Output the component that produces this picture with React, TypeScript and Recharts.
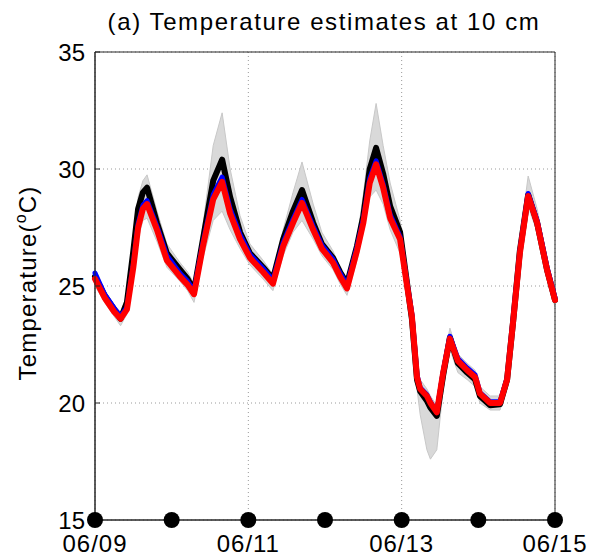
import { Area, CartesianGrid, ComposedChart, Line, ReferenceArea, ReferenceDot, XAxis, YAxis } from 'recharts';

const FONT = '"Liberation Sans", Arial, sans-serif';

// hours since 06/09 00:00
const hours = [
  0, 3, 6, 8, 10, 12, 13.5, 15, 16.3, 19.4, 22.5, 26.6, 29, 31, 33.8, 37, 39.8, 42.3, 45.4, 48.5,
  52.6, 55.7, 58.9, 62, 64.8, 68.3, 71, 74.5, 76.7, 78.9, 82, 84, 86, 88, 90.2, 92.4, 95.5, 97.7,
  99.2, 100.8, 101.8, 103.9, 105, 107, 109, 111.1, 113.6, 116.5, 119, 120.5, 123.7, 126.8, 129,
  130.9, 133, 135.6, 138.4, 141.5, 144,
];

const red = [
  25.3, 24.5, 23.9, 23.6, 24.0, 25.8, 27.5, 28.3, 28.5, 27.4, 26.1, 25.4, 25.05, 24.65, 26.7, 28.7,
  29.45, 28.1, 27.0, 26.2, 25.6, 25.1, 26.7, 27.7, 28.55, 27.4, 26.6, 26.0, 25.4, 24.9, 26.5, 27.7,
  29.4, 30.2, 29.2, 27.9, 27.0, 25.0, 23.7, 21.1, 20.6, 20.3, 20.0, 19.6, 21.3, 22.75, 21.8, 21.4,
  21.1, 20.4, 20.0, 20.0, 21.0, 23.5, 26.4, 28.85, 27.7, 25.7, 24.4,
];

const blue = [
  25.55, 24.65, 24.05, 23.7, 24.1, 25.95, 27.65, 28.45, 28.65, 27.55, 26.3, 25.55, 25.2, 24.8,
  26.85, 28.9, 29.65, 28.3, 27.2, 26.35, 25.75, 25.25, 26.85, 27.85, 28.7, 27.55, 26.75, 26.15,
  25.55, 25.05, 26.65, 27.85, 29.6, 30.35, 29.35, 28.05, 27.1, 25.1, 23.8, 21.2, 20.65, 20.35,
  20.05, 19.6, 21.35, 22.85, 21.9, 21.5, 21.2, 20.45, 20.05, 20.05, 21.05, 23.6, 26.5, 28.95,
  27.8, 25.8, 24.5,
];

const black = [
  25.4, 24.6, 24.0, 23.6, 24.3, 26.5, 28.3, 29.0, 29.2, 27.7, 26.4, 25.7, 25.3, 24.8, 27.0, 29.5,
  30.4, 28.8, 27.3, 26.4, 25.8, 25.3, 27.0, 28.2, 29.1, 27.7, 26.8, 26.2, 25.6, 25.1, 26.7, 28.0,
  30.0, 30.9, 29.8, 28.4, 27.3, 25.1, 23.6, 21.0, 20.5, 20.1, 19.8, 19.45, 21.2, 22.8, 21.7, 21.3,
  21.0, 20.3, 19.9, 19.95, 21.0, 23.5, 26.5, 28.9, 27.7, 25.7, 24.4,
];

// envelope of the gray ensemble members
const grayLo = [
  25.0, 24.3, 23.7, 23.3, 23.8, 25.5, 27.0, 27.8, 27.9, 26.9, 25.8, 25.2, 24.8, 24.3, 26.2, 27.8,
  28.2, 27.4, 26.6, 25.9, 25.3, 24.8, 26.3, 27.3, 27.8, 27.0, 26.3, 25.7, 25.1, 24.6, 26.1, 27.3,
  28.8, 29.1, 28.5, 27.4, 26.4, 24.6, 23.3, 20.6, 19.5, 18.0, 17.6, 18.0, 20.6, 22.3, 21.3, 21.0,
  20.7, 20.0, 19.7, 19.7, 20.7, 23.1, 26.0, 28.4, 27.3, 25.4, 24.1,
];

const grayHi = [
  25.7, 24.8, 24.2, 23.9, 24.6, 26.9, 28.8, 29.5, 29.75, 28.2, 26.8, 26.0, 25.6, 25.1, 27.6, 31.0,
  32.4, 30.0, 28.0, 26.8, 26.1, 25.5, 27.4, 29.0, 30.3, 28.5, 27.3, 26.5, 25.8, 25.3, 27.0, 28.9,
  31.2, 32.8, 31.0, 29.4, 27.8, 25.7, 24.1, 21.5, 21.0, 20.6, 20.3, 19.9, 21.7, 23.2, 22.1, 21.7,
  21.4, 20.7, 20.3, 20.3, 21.3, 23.9, 27.0, 29.7, 28.3, 26.1, 24.7,
];

const xTicks = [0, 48, 96, 144];
const xTickLabels = ['06/09', '06/11', '06/13', '06/15'];
const yTicks = [15, 20, 25, 30, 35];
const dayMarks = [0, 24, 48, 72, 96, 120, 144];

const data = hours.map((h, i) => ({
  h,
  red: red[i],
  blue: blue[i],
  black: black[i],
  gray: [grayLo[i], grayHi[i]],
}));

// title and y-axis label, placed in page pixels
const Captions = () => (
  <g>
    <text x={324} y={30} textAnchor="middle" fontSize={24} fontFamily={FONT} letterSpacing={1.6} fill="#000">
      (a) Temperature estimates at 10 cm
    </text>
    <text
      transform="translate(36, 283) rotate(-90)"
      textAnchor="middle"
      fontSize={24}
      fontFamily={FONT}
      letterSpacing={1.2}
      fill="#000"
    >
      Temperature(
      <tspan dy={-10} fontSize={16}>o</tspan>
      <tspan dy={10}>C)</tspan>
    </text>
  </g>
);

const lineProps = {
  type: 'linear' as const,
  dot: false,
  strokeLinejoin: 'round' as const,
  strokeLinecap: 'round' as const,
  isAnimationActive: false,
};

export default function App() {
  return (
    <div style={{ position: 'absolute', left: 0, top: 0 }}>
      <ComposedChart width={590} height={558} data={data} margin={{ top: 52, right: 35, bottom: 0, left: 0 }}>
        <CartesianGrid stroke="#9a9a9a" strokeDasharray="1 3" />
        <XAxis
          dataKey="h"
          type="number"
          domain={[0, 144]}
          ticks={xTicks}
          tickFormatter={(v) => xTickLabels[xTicks.indexOf(v)] ?? ''}
          height={38}
          tickSize={-5}
          tickMargin={20}
          stroke="#262626"
          tick={{ fill: '#000', fontSize: 24, fontFamily: FONT, letterSpacing: 1 }}
        />
        <YAxis
          type="number"
          domain={[15, 35]}
          ticks={yTicks}
          width={95}
          tickSize={-5}
          tickMargin={15}
          stroke="#262626"
          tick={{ fill: '#000', fontSize: 24, fontFamily: FONT }}
          label={{ content: () => <Captions /> }}
        />
        <Area
          dataKey="gray"
          type="linear"
          fill="#d9d9d9"
          fillOpacity={1}
          stroke="#c8c8c8"
          strokeWidth={1}
          isAnimationActive={false}
        />
        <Line dataKey="black" stroke="#000" strokeWidth={6} {...lineProps} />
        <Line dataKey="blue" stroke="#0000ff" strokeWidth={5} {...lineProps} />
        <Line dataKey="red" stroke="#ff0000" strokeWidth={6} {...lineProps} />
        <ReferenceArea x1={0} x2={144} y1={15} y2={35} fill="none" stroke="#262626" strokeWidth={1} ifOverflow="visible" />
        {dayMarks.map((d) => (
          <ReferenceDot key={d} x={d} y={15} r={8} fill="#000" stroke="none" ifOverflow="visible" />
        ))}
      </ComposedChart>
    </div>
  );
}
